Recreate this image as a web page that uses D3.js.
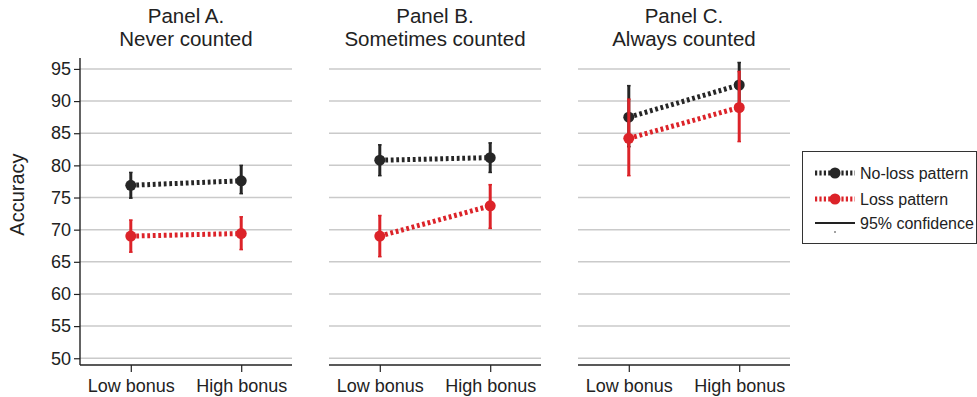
<!DOCTYPE html>
<html>
<head>
<meta charset="utf-8">
<script src="https://cdn.jsdelivr.net/npm/d3@7"></script>
<style>
  html, body { margin: 0; padding: 0; background: #fff; }
  svg { display: block; font-family: "Liberation Sans", Arial, Helvetica, sans-serif; }
</style>
</head>
<body>
<svg id="chart" width="977" height="397"></svg>
<script>
// Panels and categories
const panelTitles = ["Panel A.", "Panel B.", "Panel C."];
const panelSubtitles = ["Never counted", "Sometimes counted", "Always counted"];
const bonusLevels = ["Low bonus", "High bonus"];
const seriesNames = ["No-loss pattern", "Loss pattern"];

// Mean accuracy and 95% confidence bounds, per panel: [low bonus, high bonus]
const noLossMean = [[76.9, 77.6], [80.8, 81.2], [87.5, 92.5]];
const noLossLower = [[74.9, 75.6], [78.4, 78.9], [82.9, 89.0]];
const noLossUpper = [[78.9, 80.0], [83.2, 83.5], [92.4, 96.0]];
const lossMean = [[69.0, 69.4], [69.0, 73.7], [84.2, 89.0]];
const lossLower = [[66.5, 66.9], [65.8, 70.2], [78.4, 83.7]];
const lossUpper = [[71.5, 72.0], [72.2, 77.0], [90.3, 94.6]];

const yTicks = [50, 55, 60, 65, 70, 75, 80, 85, 90, 95];

const colors = ["#262626", "#dc2329"];
const seriesData = [
  { name: seriesNames[0], mean: noLossMean, lower: noLossLower, upper: noLossUpper, color: colors[0] },
  { name: seriesNames[1], mean: lossMean, lower: lossLower, upper: lossUpper, color: colors[1] }
];

const svg = d3.select("#chart");
const plotTop = 58, plotBottom = 365;

const y = d3.scaleLinear().domain([48.95, 96.7]).range([plotBottom, plotTop]);
const panelScale = d3.scaleBand().domain(panelTitles).range([80, 790]).paddingInner(0.1486);
const x = d3.scalePoint().domain(bonusLevels).range([0, panelScale.bandwidth()]).padding(0.46);

// Y axis label
svg.append("text")
  .attr("transform", `translate(24,${(plotTop + plotBottom) / 2 - 17}) rotate(-90)`)
  .attr("text-anchor", "middle")
  .attr("font-size", 20)
  .attr("fill", "#222")
  .text("Accuracy");

panelTitles.forEach((title, pi) => {
  const g = svg.append("g").attr("transform", `translate(${panelScale(title)},0)`);
  const w = panelScale.bandwidth();

  // Titles
  g.append("text").attr("x", w / 2).attr("y", 23).attr("text-anchor", "middle")
    .attr("font-size", 20.5).attr("fill", "#222").text(title);
  g.append("text").attr("x", w / 2).attr("y", 46).attr("text-anchor", "middle")
    .attr("font-size", 20.5).attr("fill", "#222").text(panelSubtitles[pi]);

  // Gridlines
  g.append("g").selectAll("line").data(yTicks).join("line")
    .attr("x1", 0).attr("x2", w)
    .attr("y1", d => y(d)).attr("y2", d => y(d))
    .attr("stroke", "#cacaca").attr("stroke-width", 1.5);

  // X axis
  const xAxis = g.append("g").attr("transform", `translate(0,${plotBottom})`)
    .call(d3.axisBottom(x).tickSize(7).tickPadding(6).tickSizeOuter(0));
  xAxis.select(".domain").attr("d", `M0,0H${w}`).attr("stroke", "#222").attr("stroke-width", 1.4);
  xAxis.selectAll(".tick line").attr("stroke", "#222").attr("stroke-width", 1.2);
  xAxis.selectAll(".tick text").attr("font-size", 18).attr("fill", "#222")
    .attr("font-family", "Liberation Sans, Arial, sans-serif").attr("dy", "0.75em");

  // Y axis only on first panel
  if (pi === 0) {
    const yAxis = g.append("g")
      .call(d3.axisLeft(y).tickValues(yTicks).tickSize(6).tickPadding(3).tickSizeOuter(0));
    yAxis.select(".domain").attr("d", `M0,${plotTop}V${plotBottom}`).attr("stroke", "#222").attr("stroke-width", 1.4);
    yAxis.selectAll(".tick line").attr("stroke", "#222").attr("stroke-width", 1.2);
    yAxis.selectAll(".tick text").attr("font-size", 18).attr("fill", "#222")
      .attr("font-family", "Liberation Sans, Arial, sans-serif");
  }

  // Series: confidence bars, dotted connecting line, points
  seriesData.forEach(s => {
    const pts = bonusLevels.map((b, i) => ({
      b, m: s.mean[pi][i], lo: s.lower[pi][i], hi: s.upper[pi][i]
    }));
    const sg = g.append("g");
    sg.append("path")
      .attr("d", d3.line().x(d => x(d.b)).y(d => y(d.m))(pts))
      .attr("fill", "none").attr("stroke", s.color)
      .attr("stroke-width", 5).attr("stroke-dasharray", "2.8,2.7");
    sg.selectAll("line.ci").data(pts).join("line").attr("class", "ci")
      .attr("x1", d => x(d.b)).attr("x2", d => x(d.b))
      .attr("y1", d => y(d.lo)).attr("y2", d => y(d.hi))
      .attr("stroke", s.color).attr("stroke-width", 3);
    ["lo", "hi"].forEach(k => {
      sg.selectAll(`line.cap-${k}`).data(pts).join("line").attr("class", `cap-${k}`)
        .attr("x1", d => x(d.b) - 1.8).attr("x2", d => x(d.b) + 1.8)
        .attr("y1", d => y(d[k])).attr("y2", d => y(d[k]))
        .attr("stroke", s.color).attr("stroke-width", 1.5);
    });
    sg.selectAll("circle").data(pts).join("circle")
      .attr("cx", d => x(d.b)).attr("cy", d => y(d.m)).attr("r", 5.5)
      .attr("fill", s.color);
  });
});

// Legend
const lg = svg.append("g");
lg.append("rect").attr("x", 802.5).attr("y", 151.5).attr("width", 174).attr("height", 92)
  .attr("fill", "#fff").attr("stroke", "#333").attr("stroke-width", 1);
const legendRows = [173, 199];
seriesData.forEach((s, i) => {
  const ly = legendRows[i];
  lg.append("line").attr("x1", 815).attr("x2", 855).attr("y1", ly).attr("y2", ly)
    .attr("stroke", s.color).attr("stroke-width", 5).attr("stroke-dasharray", "2.2,2.2");
  lg.append("circle").attr("cx", 835).attr("cy", ly).attr("r", 5.5).attr("fill", s.color);
  lg.append("text").attr("x", 860).attr("y", ly).attr("dy", "0.35em")
    .attr("font-size", 16).attr("fill", "#222").text(s.name);
});
lg.append("line").attr("x1", 815).attr("x2", 855).attr("y1", 223).attr("y2", 223)
  .attr("stroke", "#222").attr("stroke-width", 2);
lg.append("line").attr("x1", 835).attr("x2", 835).attr("y1", 231).attr("y2", 233)
  .attr("stroke", "#444").attr("stroke-width", 1);
lg.append("text").attr("x", 860).attr("y", 223).attr("dy", "0.35em")
  .attr("font-size", 16).attr("fill", "#222").text("95% confidence");
</script>
</body>
</html>
